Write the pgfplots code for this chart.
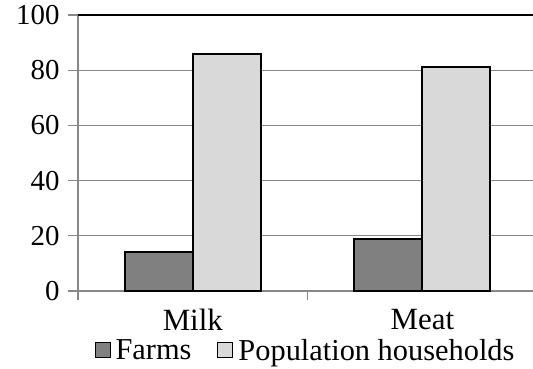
\documentclass[border=0pt]{standalone}
\usepackage{pgfplots}
\pgfplotsset{compat=1.18}
\usepackage{fontspec}
\setmainfont{Liberation Serif}
\definecolor{axgray}{HTML}{888888}
\definecolor{farmgray}{HTML}{808080}
\definecolor{hhgray}{HTML}{D9D9D9}
\begin{document}
\begin{tikzpicture}
\begin{axis}[
  at={(0,0)}, anchor=south west,
  scale only axis, width=455bp, height=276bp,
  xmin=-0.5, xmax=1.4817, ymin=0, ymax=100,
  /pgf/number format/assume math mode=true,
  axis x line=bottom, axis y line=left,
  axis line style={-, draw=axgray, line width=1.4pt},
  ytick={0,20,40,60,80,100},
  ymajorgrids, grid style={axgray, line width=1.4pt},
  tick align=outside, major tick length=10bp,
  y tick style={draw=axgray, line width=1.4pt},
  xtick={0,1}, xticklabels={Milk,Meat},
  x tick style={draw=none},
  extra x ticks={-0.5,0.5},
  extra x tick labels={},
  extra x tick style={x tick style={draw=axgray, line width=1.4pt}, major tick length=9bp},
  extra y ticks={100}, extra y tick labels={},
  extra y tick style={grid style={black, line width=2pt}, y tick style={draw=none}},
  tick label style={font=\fontsize{29}{32}\selectfont},
  yticklabel style={xshift=-5bp},
  xticklabel style={yshift=-5bp, font=\fontsize{31}{34}\selectfont},
  legend style={at={(0.5,-0.215)}, anchor=center, draw=none, fill=none,
    legend columns=2, font=\fontsize{30.5}{34}\selectfont,
    /tikz/every even column/.append style={column sep=24bp},
    nodes={inner sep=2bp}},
  legend image code/.code={\draw[#1, line width=1pt] (0bp,-7.5bp) rectangle (15bp,7.5bp);},
]
\addplot[ybar, bar width=0.296, bar shift=-0.148, fill=farmgray, draw=black, line width=2pt]
  coordinates {(0,14) (1,19)};
\addlegendentry{\hspace{3bp}Farms}
\addplot[ybar, bar width=0.296, bar shift=0.148, fill=hhgray, draw=black, line width=2pt]
  coordinates {(0,86) (1,81)};
\addlegendentry{\hspace{3bp}Population households}
\end{axis}
\pgfresetboundingbox
\useasboundingbox (-78bp,-78bp) rectangle (455bp,291bp);
\end{tikzpicture}
\end{document}
